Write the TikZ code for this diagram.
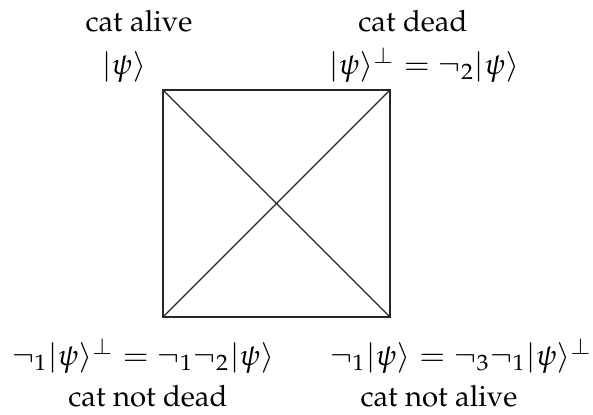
\documentclass[tikz,border=0pt]{standalone}
\usepackage[T1]{fontenc}
\usepackage{mathpazo}
\tikzset{lbl/.style={anchor=base,inner sep=0pt},
         mlbl/.style={lbl,xscale=1.07},
         edge/.style={draw=black!85,line width=0.45pt}}
\begin{document}
\begin{tikzpicture}[x=0.341pt,y=-0.341pt]
\useasboundingbox (0,0) rectangle (593,414);
\coordinate (A) at (163,90);
\coordinate (B) at (390,90);
\coordinate (C) at (390,317);
\coordinate (D) at (163,317);
\draw[edge] (A) -- (B) -- (C) -- (D) -- cycle;
\draw[edge] (A) -- (C);
\draw[edge] (B) -- (D);
\node[lbl] (catalive) at (139,31) {cat alive};
\node[mlbl] (psi) at (124,74) {$|\psi\rangle$};
\node[lbl] (catdead) at (413,31) {cat dead};
\node[mlbl] (psiperp) at (424,74) {$|\psi\rangle^\perp = \neg_2|\psi\rangle$};
\node[mlbl] (notdeadf) at (143,365) {$\neg_1|\psi\rangle^\perp = \neg_1\neg_2|\psi\rangle$};
\node[lbl] (notdead) at (148,406) {cat not dead};
\node[mlbl] (notalivef) at (461,365) {$\neg_1|\psi\rangle = \neg_3\neg_1|\psi\rangle^\perp$};
\node[lbl] (notalive) at (439,406) {cat not alive};
\end{tikzpicture}
\end{document}
